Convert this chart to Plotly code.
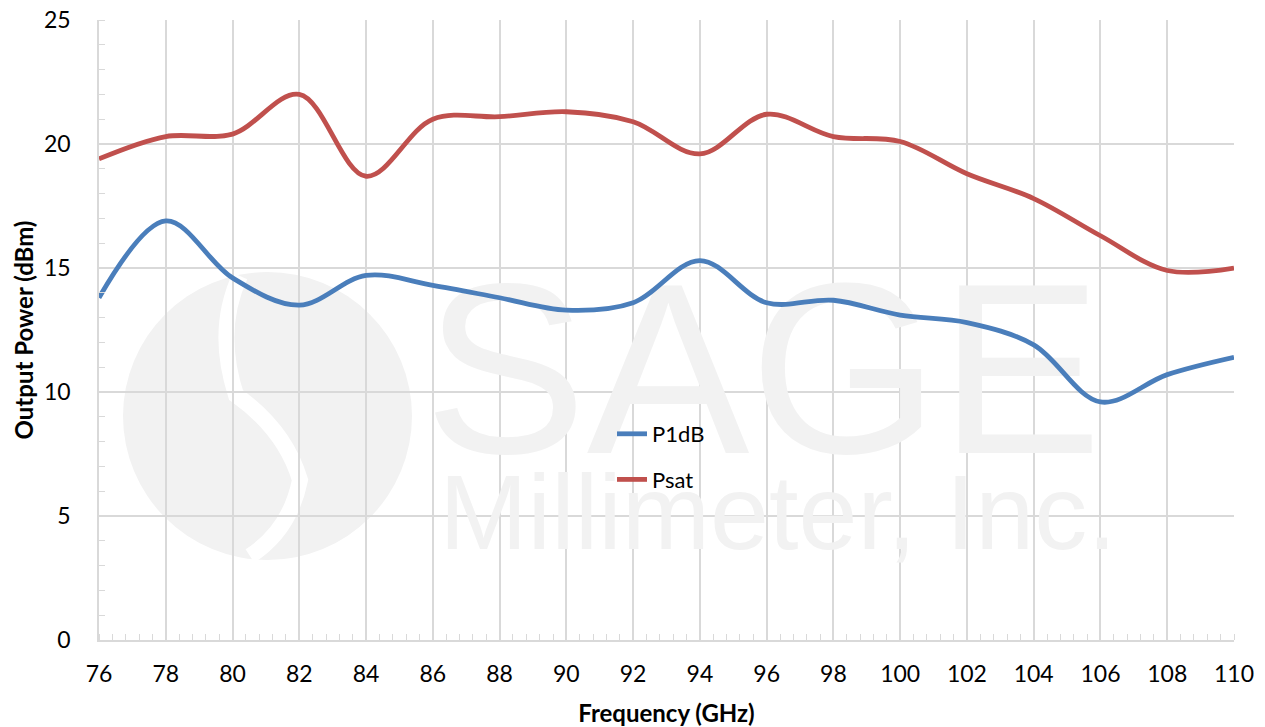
import plotly.graph_objects as go

freq = [76, 78, 80, 82, 84, 86, 88, 90, 92, 94, 96, 98, 100, 102, 104, 106, 108, 110]
p1db = [13.8, 16.9, 14.6, 13.5, 14.7, 14.3, 13.8, 13.3, 13.6, 15.3, 13.6, 13.7, 13.1, 12.8, 11.9, 9.6, 10.7, 11.4]
psat = [19.4, 20.3, 20.4, 22.0, 18.7, 21.0, 21.1, 21.3, 20.9, 19.6, 21.2, 20.3, 20.1, 18.8, 17.8, 16.3, 14.9, 15.0]
x_ticks = list(range(76, 111, 2))
y_ticks = [0, 5, 10, 15, 20, 25]
watermark_words = ["SAGE", "Millimeter, Inc."]

W, H = 1265, 727
L, R, T, B = 99, 31, 20, 87
PW, PH = W - L - R, H - T - B
XR, YR = (76, 110), (0, 25)

def px(xp, yp):
    return (xp - L) / PW, (H - B - yp) / PH

def pdata(xp, yp):
    fx, fy = px(xp, yp)
    return XR[0] + fx * (XR[1] - XR[0]), YR[0] + fy * (YR[1] - YR[0])

FONT = "Lato, 'Open Sans', sans-serif"
GRID = "#d9d9d9"
WM = "#f2f2f2"

fig = go.Figure()

# watermark text (drawn first so the data lines sit on top)
s_x, s_y = pdata(763, 392)
m_x, m_y = pdata(778, 522)
fig.add_trace(go.Scatter(x=[s_x], y=[s_y], mode="text", text=[watermark_words[0]],
                         textfont=dict(family="'Liberation Sans', sans-serif", size=244, color=WM),
                         textposition="middle center", showlegend=False, hoverinfo="skip"))
fig.add_trace(go.Scatter(x=[m_x], y=[m_y], mode="text", text=[watermark_words[1]],
                         textfont=dict(family="'Liberation Sans', Arial, sans-serif", size=106, color=WM),
                         textposition="middle center", showlegend=False, hoverinfo="skip"))

fig.add_trace(go.Scatter(x=freq, y=p1db, name="P1dB", mode="lines",
                         line=dict(color="#4a7ebb", width=4.8, shape="spline", smoothing=1.0),
                         legendgroup="a"))
fig.add_trace(go.Scatter(x=freq, y=psat, name="Psat", mode="lines",
                         line=dict(color="#c0504d", width=4.8, shape="spline", smoothing=1.0),
                         legendgroup="b"))

# watermark logo (circle with white S)
cx0, cy0 = px(123, 272)
cx1, cy1 = px(412, 560)
shapes = [dict(type="circle", xref="paper", yref="paper", x0=cx0, y0=cy1, x1=cx1, y1=cy0,
               fillcolor=WM, line=dict(width=0), layer="below")]
pts = [(240, 276), (215, 330), (236, 395), (285, 430), (300, 480), (290, 530), (250, 556)]
pp = [px(a, b) for a, b in pts]
path = "M {:.4f},{:.4f} Q {:.4f},{:.4f} {:.4f},{:.4f} Q {:.4f},{:.4f} {:.4f},{:.4f} Q {:.4f},{:.4f} {:.4f},{:.4f}".format(
    pp[0][0], pp[0][1], pp[1][0], pp[1][1], pp[2][0], pp[2][1],
    pp[3][0], pp[3][1], pp[4][0], pp[4][1], pp[5][0], pp[5][1], pp[6][0], pp[6][1])
shapes.append(dict(type="path", xref="paper", yref="paper", path=path,
                   line=dict(color="white", width=16), layer="below"))

fig.update_layout(
    width=W, height=H,
    margin=dict(l=L, r=R, t=T, b=B, autoexpand=False),
    paper_bgcolor="white", plot_bgcolor="white",
    font=dict(family=FONT, color="black", size=23),
    shapes=shapes,
    legend=dict(x=px(612, 0)[0], y=px(0, 413)[1], xanchor="left", yanchor="top",
                bgcolor="rgba(0,0,0,0)", font=dict(size=22, family=FONT),
                tracegroupgap=14),
    showlegend=True,
)
fig.update_xaxes(
    range=list(XR), tickvals=x_ticks, ticktext=[str(v) for v in x_ticks],
    showgrid=True, gridcolor=GRID, gridwidth=1.5,
    showline=True, linecolor=GRID, linewidth=1.5,
    ticks="", ticklabelstandoff=13,
    minor=dict(dtick=0.4, tick0=76, ticks="inside", ticklen=6, tickcolor=GRID, tickwidth=1.2, showgrid=False),
    title=dict(text="<b>Frequency (GHz)</b>", font=dict(size=24, family=FONT), standoff=19),
    zeroline=False, tickfont=dict(size=23), automargin=False,
)
fig.update_yaxes(
    range=list(YR), tickvals=y_ticks,
    showgrid=True, gridcolor=GRID, gridwidth=1.5,
    showline=True, linecolor=GRID, linewidth=1.5,
    ticks="", ticklabelstandoff=22,
    minor=dict(dtick=1, tick0=0, ticks="inside", ticklen=6, tickcolor=GRID, tickwidth=1.2, showgrid=False),
    title=dict(text="<b>Output Power (dBm)</b>", font=dict(size=24, family=FONT), standoff=4),
    zeroline=False, tickfont=dict(size=23), automargin=False,
)

post = ("document.body.style.margin='0';"
        "var d=document.getElementById('{plot_id}');"
        "d.style.position='fixed';d.style.left='0px';d.style.top='0px';")
fig.write_html("out.html", post_script=post, config={"displayModeBar": False})
